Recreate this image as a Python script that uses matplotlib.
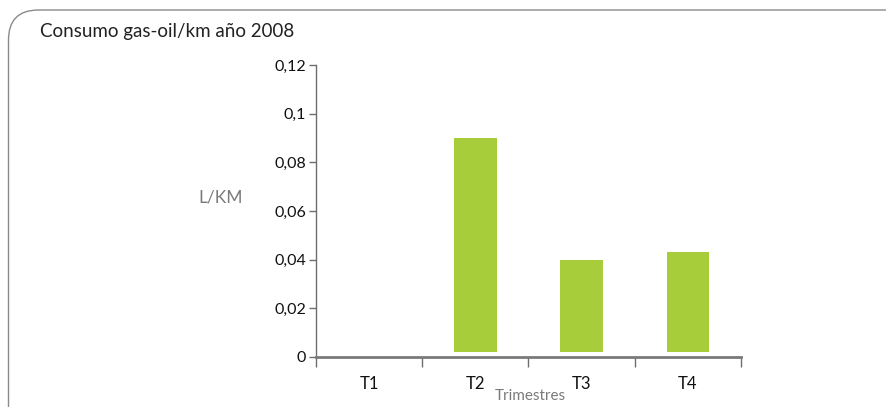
import matplotlib
matplotlib.use("Agg")
import matplotlib.pyplot as plt
from matplotlib.patches import FancyBboxPatch
from matplotlib.ticker import FixedLocator, FuncFormatter

categories = ["T1", "T2", "T3", "T4"]
values = [0.0, 0.09, 0.04, 0.043]
yticks = [0, 0.02, 0.04, 0.06, 0.08, 0.1, 0.12]
ytick_labels = ["0", "0,02", "0,04", "0,06", "0,08", "0,1", "0,12"]
title = "Consumo gas-oil/km año 2008"

plt.rcParams['font.family'] = ['Lato', 'DejaVu Sans']

W, H = 887, 407
fig = plt.figure(figsize=(W / 100, H / 100), dpi=100)

# rounded frame (display pixel coords, origin bottom-left)
frame = FancyBboxPatch((8.5, -40), W + 40, H - 10 + 40,
                       boxstyle="round,pad=0,rounding_size=30",
                       transform=None, fill=False,
                       edgecolor="#8a8a8a", linewidth=1.0)
fig.patches.append(frame)

fig.text(40 / W, 1 - 32 / H, title, fontsize=13.5, color="#222222",
         va="center", ha="left")

ax = fig.add_axes([316 / W, 1 - 357 / H, (741 - 316) / W, (357 - 65) / H])
x = list(range(len(categories)))
base = 0.002
ax.bar([xi for xi, v in zip(x, values) if v > 0],
       [v - base for v in values if v > 0], bottom=base,
       width=0.4, color="#a8cd3a", zorder=2)

ax.set_xlim(-0.5, len(categories) - 0.5)
ax.set_ylim(0, 0.12)
for s in ["top", "right"]:
    ax.spines[s].set_visible(False)
ax.spines["left"].set_color("#6e6e6e")
ax.spines["left"].set_linewidth(1.0)
ax.spines["bottom"].set_color("#7a7a7a")
ax.spines["bottom"].set_linewidth(2.0)
ax.spines["bottom"].set_zorder(3)

ax.set_yticks(yticks)
ax.set_yticklabels(ytick_labels)
ax.tick_params(axis="y", length=5, width=1, color="#6e6e6e",
               labelsize=11.5, labelcolor="#111111", pad=2)

ax.xaxis.set_major_locator(FixedLocator([i - 0.5 for i in range(len(categories) + 1)]))
ax.xaxis.set_major_formatter(FuncFormatter(lambda v, p: ""))
ax.xaxis.set_minor_locator(FixedLocator(x))
ax.set_xticklabels(categories, minor=True)
ax.tick_params(axis="x", which="major", length=7, width=1, color="#6e6e6e")
ax.tick_params(axis="x", which="minor", length=0, labelsize=12,
               labelcolor="#111111", pad=14)

fig.text(221 / W, 1 - 197 / H, "L/KM", fontsize=12.5, color="#7a7a7a",
         ha="center", va="center")
fig.text(530 / W, 1 - 396 / H, "Trimestres", fontsize=11, color="#7a7a7a",
         ha="center", va="center")

fig.savefig("out.png", dpi=100)
